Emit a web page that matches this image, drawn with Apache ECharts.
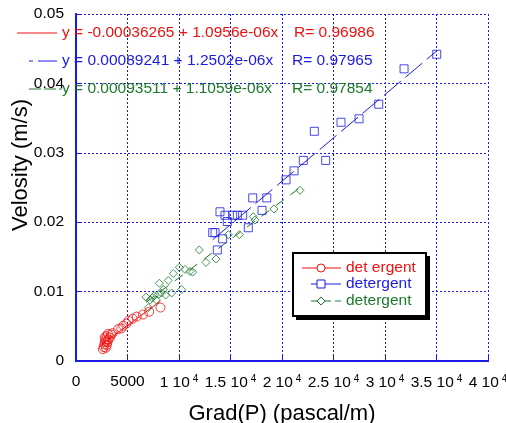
<!DOCTYPE html>
<html>
<head>
<meta charset="utf-8">
<script src="https://cdn.jsdelivr.net/npm/echarts@6/dist/echarts.min.js"></script>
<style>
  html, body { margin: 0; padding: 0; background: #fff; }
  #chart { width: 506px; height: 423px; }
</style>
</head>
<body>
<div id="chart"></div>
<script>
// data: [grad(P) pascal/m, velocity m/s]
const redPoints = [
  [2600, 0.0017], [2700, 0.0020], [2750, 0.0024], [2800, 0.0027], [2900, 0.0019],
  [2850, 0.0031], [2950, 0.0029], [3000, 0.0023], [2800, 0.0034], [3050, 0.0027],
  [2950, 0.0036], [3150, 0.0031], [3100, 0.0039], [3300, 0.0034], [3400, 0.0038],
  [3550, 0.0040], [4100, 0.0046], [4400, 0.0047], [4600, 0.0051], [4900, 0.0054],
  [5100, 0.0058], [5500, 0.0061], [5900, 0.0064], [6500, 0.0067], [7100, 0.0071],
  [8200, 0.0077]
]
const bluePoints = [
  [13270, 0.0185], [13500, 0.0185], [13720, 0.0160], [14240, 0.0176], [13980, 0.0215],
  [14470, 0.0210], [14690, 0.0201], [15210, 0.0210], [15660, 0.0210], [16180, 0.0210],
  [16730, 0.0192], [17160, 0.0235], [18060, 0.0217], [18520, 0.0235], [20390, 0.0261],
  [21170, 0.0274], [22070, 0.0289], [23140, 0.0331], [24240, 0.0289], [25730, 0.0344],
  [27480, 0.0349], [29390, 0.0370], [31850, 0.0421], [35020, 0.0442]
]
const greenPoints = [
  [6800, 0.0092], [7020, 0.0077], [7200, 0.0088], [7400, 0.0091], [7600, 0.0094],
  [7800, 0.0088], [8000, 0.0096], [8100, 0.0112], [8300, 0.0098], [8480, 0.0103],
  [8700, 0.0095], [8960, 0.0116], [9290, 0.0098], [9450, 0.0126], [10030, 0.0135],
  [10260, 0.0103], [10580, 0.0132], [11070, 0.0129], [11330, 0.0128], [11970, 0.0160],
  [12620, 0.0142], [13590, 0.0147], [14790, 0.0182], [15860, 0.0182], [17210, 0.0208],
  [17380, 0.0203], [19220, 0.0219], [21750, 0.0246]
]
// fit coefficients [a, b] for y = a + b x, and R values
const redFit = [-0.00036265, 1.0956e-06]
const blueFit = [0.00089241, 1.2502e-06]
const greenFit = [0.00093511, 1.1059e-06]
const fitLabels = [
  'y = -0.00036265 + 1.0956e-06x',
  'y = 0.00089241 + 1.2502e-06x',
  'y = 0.00093511 + 1.1059e-06x'
]
const rLabels = ['R= 0.96986', 'R= 0.97965', 'R= 0.97854']
const legendNames = ['det ergent', 'detergent', 'detergent']
const xTicks = [0, 5000, 10000, 15000, 20000, 25000, 30000, 35000, 40000]
const yTicks = [0, 0.01, 0.02, 0.03, 0.04, 0.05]

const RED = '#f01010'
const BLUE = '#1a1ae6'
const GREEN = '#1d7a2c'
const FONT = '"Liberation Sans", Arial, sans-serif'

const fitLine = (pts, fit) => {
  const xs = pts.map(p => p[0])
  const x0 = Math.min(...xs)
  const x1 = Math.max(...xs)
  return [[x0, fit[0] + fit[1] * x0], [x1, fit[0] + fit[1] * x1]]
}

const chart = echarts.init(document.getElementById('chart'))

const scatter = (name, data, symbol, size, color) => ({
  name,
  type: 'scatter',
  data,
  symbol,
  symbolSize: size,
  itemStyle: { color: 'transparent', borderColor: color, borderWidth: 1 },
  z: 3
})

const fitSeries = (data, color, dash) => ({
  type: 'line',
  data,
  showSymbol: false,
  lineStyle: { color, width: 1, type: dash },
  z: 2
})

// legend box and equation notes
const legendRows = [268, 284, 301]
const colors = [RED, BLUE, GREEN]
const graphics = [
  { type: 'rect', shape: { x: 296, y: 256, width: 134, height: 64 }, style: { fill: '#000' }, z: 10 },
  { type: 'rect', shape: { x: 293, y: 253, width: 133, height: 63 }, style: { fill: '#fff', stroke: '#000', lineWidth: 2 }, z: 11 }
]
legendRows.forEach((y, i) => {
  graphics.push({
    type: 'line', shape: { x1: i === 0 ? 302 : 311, y1: y, x2: 341, y2: y },
    style: { stroke: colors[i], lineWidth: 1, lineDash: i === 2 ? [8, 4] : null }, z: 12
  })
  graphics.push({
    type: 'text', x: 346, y: y,
    style: { text: legendNames[i], fill: colors[i], font: '15.5px ' + FONT, textVerticalAlign: 'middle' }, z: 12
  })
})
graphics.push(
  { type: 'circle', shape: { cx: 321, cy: 268, r: 4 }, style: { fill: '#fff', stroke: RED, lineWidth: 1 }, z: 13 },
  { type: 'rect', shape: { x: 317, y: 280, width: 8, height: 8 }, style: { fill: '#fff', stroke: BLUE, lineWidth: 1 }, z: 13 },
  { type: 'polygon', shape: { points: [[321, 297], [325, 301], [321, 305], [317, 301]] }, style: { fill: '#fff', stroke: GREEN, lineWidth: 1 }, z: 13 }
)
const noteRows = [33, 61, 89]
const rX = [294, 292, 292]
noteRows.forEach((y, i) => {
  graphics.push({
    type: 'line', shape: { x1: i === 0 ? 17 : 29, y1: y, x2: i === 2 ? 62 : 57, y2: y },
    style: { stroke: colors[i], lineWidth: 1, lineDash: i === 1 ? [4, 5, 18, 0] : (i === 2 ? [12, 3] : null) }, z: 12
  })
  graphics.push({
    type: 'text', x: 62, y: y,
    style: { text: fitLabels[i], fill: colors[i], font: '15.5px ' + FONT, textVerticalAlign: 'middle' }, z: 12
  })
  graphics.push({
    type: 'text', x: rX[i], y: y,
    style: { text: rLabels[i], fill: colors[i], font: '15.5px ' + FONT, textVerticalAlign: 'middle' }, z: 12
  })
})
graphics.push(
  { type: 'text', x: 21, y: 165, rotation: Math.PI / 2,
    style: { text: 'Velosity (m/s)', fill: '#000', font: '22px ' + FONT, textAlign: 'center', textVerticalAlign: 'middle' }, z: 12 }
)

const option = {
  animation: false,
  backgroundColor: '#fff',
  grid: { left: 76, right: 18, top: 14, bottom: 62, outerBoundsMode: 'none', containLabel: false },
  xAxis: [
    {
      type: 'value',
      min: xTicks[0],
      max: xTicks[xTicks.length - 1],
      interval: 5000,
      name: 'Grad(P) (pascal/m)',
      nameLocation: 'middle',
      nameGap: 42,
      nameTextStyle: { fontFamily: FONT, fontSize: 22, color: '#000' },
      axisLine: { lineStyle: { color: BLUE, width: 2 } },
      axisTick: { inside: true, length: 5, lineStyle: { color: BLUE } },
      splitLine: { show: true, lineStyle: { color: BLUE, type: [2, 2], width: 1 } },
      axisLabel: {
        margin: 13,
        fontFamily: FONT,
        fontSize: 15.5,
        color: '#000',
        formatter: v => (v === 0 ? '0' : v === 5000 ? '5000' : `{n|${v / 10000} 10}{s|4}`),
        rich: {
          n: { fontFamily: FONT, fontSize: 15.5, color: '#000', lineHeight: 18 },
          s: { fontFamily: FONT, fontSize: 10, color: '#000', verticalAlign: 'top', lineHeight: 10, padding: [0, 0, 0, 3] }
        }
      }
    },
    {
      type: 'value',
      position: 'top',
      min: 0,
      max: 40000,
      interval: 5000,
      axisLine: { show: true, lineStyle: { color: BLUE, width: 2, type: [3, 2] } },
      axisTick: { show: false },
      axisLabel: { show: false },
      splitLine: { show: false }
    }
  ],
  yAxis: [
    {
      type: 'value',
      min: yTicks[0],
      max: yTicks[yTicks.length - 1],
      interval: 0.01,
      axisLine: { show: true, lineStyle: { color: BLUE, width: 2 } },
      axisTick: { show: true, inside: true, length: 5, lineStyle: { color: BLUE } },
      splitLine: { show: true, lineStyle: { color: BLUE, type: [2, 2], width: 1 } },
      axisLabel: { margin: 12, fontFamily: FONT, fontSize: 15.5, color: '#000' }
    },
    {
      type: 'value',
      position: 'right',
      min: 0,
      max: 0.05,
      interval: 0.01,
      axisLine: { show: true, lineStyle: { color: BLUE, width: 2, type: [3, 2] } },
      axisTick: { show: false },
      axisLabel: { show: false },
      splitLine: { show: false }
    }
  ],
  series: [
    fitSeries(fitLine(redPoints, redFit), RED, 'solid'),
    fitSeries(fitLine(bluePoints, blueFit), BLUE, [22, 6]),
    fitSeries(fitLine(greenPoints, greenFit), GREEN, [10, 8]),
    scatter(legendNames[0], redPoints, 'circle', 9, RED),
    scatter(legendNames[1], bluePoints, 'rect', 8, BLUE),
    scatter(legendNames[2], greenPoints, 'diamond', 8, GREEN)
  ],
  graphic: graphics
}

chart.setOption(option)
</script>
</body>
</html>
